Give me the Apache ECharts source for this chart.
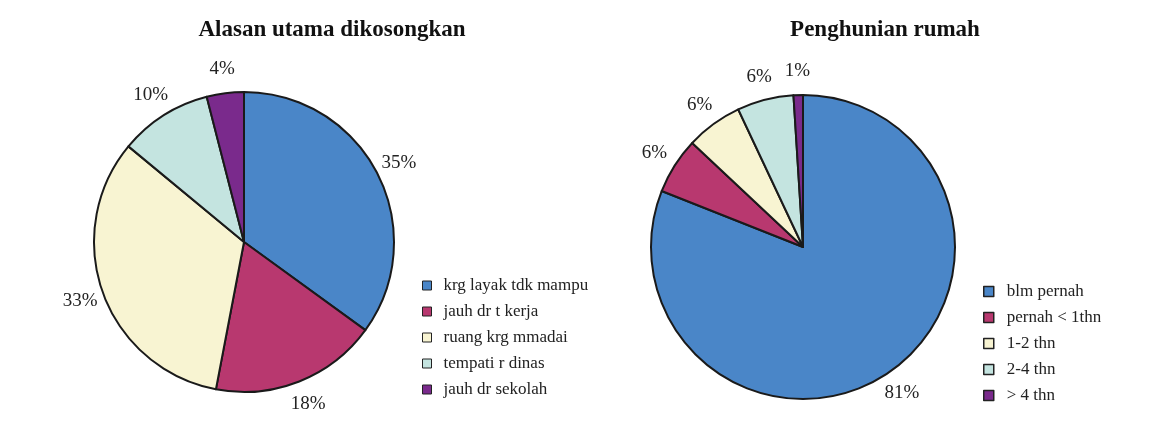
<!DOCTYPE html>
<html><head><meta charset="utf-8">
<script src="https://cdn.jsdelivr.net/npm/echarts@6/dist/echarts.min.js"></script>
<style>html,body{margin:0;padding:0;background:#fff}#c{width:1151px;height:424px}</style>
</head><body><div id="c"></div>
<script>
const leftTitle = 'Alasan utama dikosongkan';
const leftCats = ['krg layak tdk mampu', 'jauh dr t kerja', 'ruang krg mmadai', 'tempati r dinas', 'jauh dr sekolah'];
const leftVals = [35, 18, 33, 10, 4];
const rightTitle = 'Penghunian rumah';
const rightCats = ['blm pernah', 'pernah < 1thn', '1-2 thn', '2-4 thn', '> 4 thn'];
const rightVals = [81, 6, 6, 6, 1];
const colors = ['#4a86c8', '#b8386f', '#f8f4d2', '#c4e4e0', '#7a2a8c'];
const font = '"Liberation Serif", "Times New Roman", serif';

const mk = (cats, vals) => cats.map((c, i) => ({name: c, value: vals[i], itemStyle: {color: colors[i]}}));
const mkLabels = (cats, vals) => cats.map((c, i) => ({name: c, value: vals[i]}));

function piePair(center, radius, cats, vals) {
  return [
    {type: 'pie', center: center, radius: [0, radius], startAngle: 90, clockwise: true,
     data: mk(cats, vals),
     itemStyle: {borderColor: '#1a1a1a', borderWidth: 2},
     label: {show: false}, labelLine: {show: false},
     emphasis: {disabled: true}, silent: true},
    {type: 'pie', center: center, radius: [radius + 16, radius + 26], startAngle: 90, clockwise: true,
     data: mkLabels(cats, vals),
     itemStyle: {color: 'rgba(0,0,0,0)', borderWidth: 0},
     label: {show: true, position: 'inside', formatter: '{c}%', fontFamily: font, fontSize: 19, color: '#222'},
     labelLine: {show: false},
     emphasis: {disabled: true}, silent: true, legendHoverLink: false}
  ];
}

const chart = echarts.init(document.getElementById('c'));
chart.setOption({
  animation: false,
  title: [
    {text: leftTitle, left: 327, top: 14, textAlign: 'center', textStyle: {fontFamily: font, fontSize: 23, fontWeight: 'bold', color: '#111'}},
    {text: rightTitle, left: 880, top: 14, textAlign: 'center', textStyle: {fontFamily: font, fontSize: 23, fontWeight: 'bold', color: '#111'}}
  ],
  legend: [
    {data: leftCats, orient: 'vertical', left: 417, top: 272, itemWidth: 9, itemHeight: 9, itemGap: 9, icon: 'rect',
     textStyle: {fontFamily: font, fontSize: 17, color: '#222', padding: [0, 0, 0, 7]}, itemStyle: {borderColor: '#222', borderWidth: 1}},
    {data: rightCats, orient: 'vertical', left: 978, top: 278, itemWidth: 10, itemHeight: 10, itemGap: 9, icon: 'rect',
     textStyle: {fontFamily: font, fontSize: 17, color: '#222', padding: [0, 0, 0, 8]}, itemStyle: {borderColor: '#222', borderWidth: 1.5}}
  ],
  series: [].concat(
    piePair([244, 242], 150, leftCats, leftVals),
    piePair([803, 247], 152, rightCats, rightVals)
  )
});
</script></body></html>
